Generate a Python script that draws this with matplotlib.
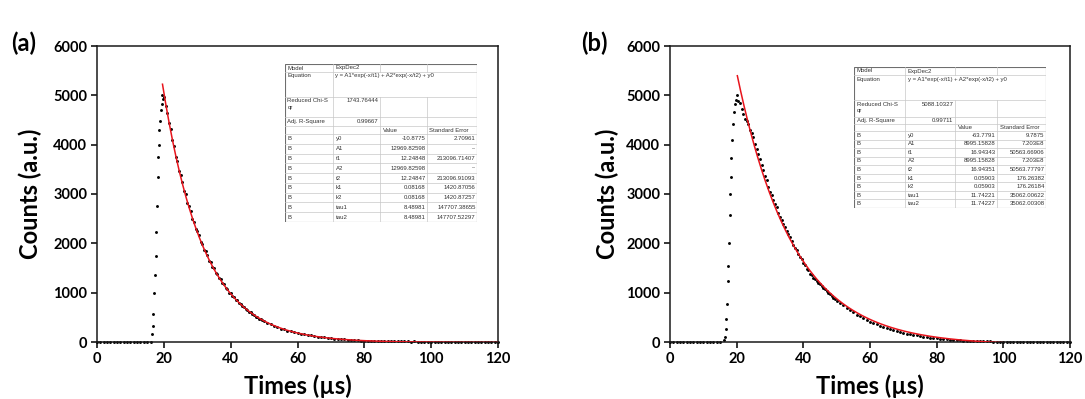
import numpy as np
import matplotlib
matplotlib.use('Agg')
import matplotlib.pyplot as plt

W, H = 1085, 399
FONT = ['Lato', 'DejaVu Sans']
TFONT = ['Liberation Sans', 'DejaVu Sans']

# shared time grid of the decay part (us)
decay_t = np.concatenate([np.arange(20.0, 50.01, 0.5), np.arange(51, 121)])
baseline_t = [0, 1, 2, 3, 4, 5, 6, 7, 8, 9, 10, 11, 12, 13, 14, 15]
baseline_counts = [0, 0, 0, 0, 0, 0, 0, 0, 0, 0, 0, 0, 0, 0, 0, 0]

# ---- panel (a) measured points
rise_t_a = [16.2, 16.5, 16.7, 16.9, 17.1, 17.3, 17.6, 17.8, 18.0, 18.2, 18.4, 18.6, 18.7, 18.9, 19.1, 19.4, 19.5, 19.9]
rise_counts_a = [5, 156, 325, 574, 988, 1365, 1744, 2237, 2765, 3341, 3753, 3990, 4294, 4477, 4706, 4821, 5004, 4935]
decay_counts_a = [
    4960, 4780, 4640, 4430, 4310, 4090, 3980, 3760, 3670, 3470,
    3390, 3250, 3060, 3000, 2820, 2760, 2650, 2490, 2440, 2300,
    2250, 2160, 2030, 1990, 1870, 1840, 1760, 1650, 1620, 1520,
    1500, 1390, 1380, 1290, 1270, 1190, 1170, 1090, 1080, 1000,
    990, 925, 915, 850, 845, 790, 775, 720, 715, 660,
    655, 610, 605, 560, 555, 515, 512, 475, 470, 438, 432,
    385, 368, 325, 310, 272, 262, 230, 222, 193, 188,
    162, 158, 136, 133, 114, 111, 95, 93, 79, 77,
    65, 64, 53, 54, 43, 44, 35, 36, 28, 29,
    25, 22, 24, 19, 21, 17, 18, 15, 16, 13,
    14, 12, 13, 10, 11, 9, 10, 8, 9, 7,
    8, 6, 7, 6, 5, 6, 4, 5, 5, 4,
    3, 4, 3, 4, 2, 3, 3, 2, 3, 2]

# ---- panel (b) measured points
rise_t_b = [16.3, 16.5, 16.7, 16.9, 17.1, 17.3, 17.5, 17.7, 18.0, 18.1, 18.3, 18.4, 18.7, 19.0, 19.2, 19.5, 19.7]
rise_counts_b = [34, 108, 270, 473, 765, 1243, 1541, 2002, 2570, 2996, 3347, 3738, 4091, 4416, 4665, 4821, 4909]
decay_counts_b = [
    5000, 4880, 4850, 4720, 4620, 4520, 4470, 4420, 4300, 4230,
    4160, 4020, 3920, 3810, 3700, 3580, 3480, 3370, 3280, 3150,
    3050, 2980, 2880, 2800, 2740, 2620, 2540, 2480, 2400, 2330,
    2260, 2190, 2130, 2040, 1970, 1900, 1860, 1780, 1730, 1690,
    1600, 1570, 1480, 1450, 1380, 1360, 1300, 1270, 1230, 1200,
    1180, 1130, 1090, 1070, 1030, 990, 970, 930, 900, 880, 840,
    790, 740, 690, 640, 600, 555, 520, 480, 450, 410,
    385, 355, 330, 305, 282, 262, 240, 222, 205, 188,
    172, 158, 145, 132, 120, 108, 98, 88, 80, 72,
    65, 58, 52, 46, 41, 36, 32, 28, 25, 22,
    19, 17, 15, 13, 12, 11, 10, 9, 8, 7,
    7, 6, 6, 5, 5, 5, 4, 4, 4, 3,
    3, 3, 3, 2, 2, 2, 2, 2, 1, 1]

# ExpDec2 fit parameters as printed in the inset tables
fit_a = {'A1': 12969.82598, 't1': 12.24848, 'A2': 12969.82598, 't2': 12.24847, 'y0': -10.8775, 'start': 19.6}
fit_b = {'A1': 8995.15828, 't1': 16.94343, 'A2': 8995.15828, 't2': 16.94351, 'y0': -63.7791, 'start': 20.2}

eq = 'y = A1*exp(-x/t1) + A2*exp(-x/t2) + y0'
table_a = [
    ['Model', 'ExpDec2', '', ''],
    ['Equation', eq, '', ''],
    ['Reduced Chi-S\nqr', '1743.76444', '', ''],
    ['Adj. R-Square', '0.99667', '', ''],
    ['', '', 'Value', 'Standard Error'],
    ['B', 'y0', '-10.8775', '2.70961'],
    ['B', 'A1', '12969.82598', '--'],
    ['B', 't1', '12.24848', '213096.71407'],
    ['B', 'A2', '12969.82598', '--'],
    ['B', 't2', '12.24847', '213096.91093'],
    ['B', 'k1', '0.08168', '1420.87056'],
    ['B', 'k2', '0.08168', '1420.87257'],
    ['B', 'tau1', '8.48981', '147707.38655'],
    ['B', 'tau2', '8.48981', '147707.52297'],
]
table_b = [
    ['Model', 'ExpDec2', '', ''],
    ['Equation', eq, '', ''],
    ['Reduced Chi-S\nqr', '5088.10327', '', ''],
    ['Adj. R-Square', '0.99711', '', ''],
    ['', '', 'Value', 'Standard Error'],
    ['B', 'y0', '-63.7791', '9.7875'],
    ['B', 'A1', '8995.15828', '7.203E8'],
    ['B', 't1', '16.94343', '50563.66906'],
    ['B', 'A2', '8995.15828', '7.203E8'],
    ['B', 't2', '16.94351', '50563.77797'],
    ['B', 'k1', '0.05903', '176.26382'],
    ['B', 'k2', '0.05903', '176.26184'],
    ['B', 'tau1', '11.74221', '35062.00622'],
    ['B', 'tau2', '11.74227', '35062.00308'],
]


def draw_panel(rect, rise_t, rise_c, decay_c, fit, label_x):
    ax = fig.add_axes(rect)
    t = list(baseline_t) + list(rise_t) + list(decay_t)
    c = list(baseline_counts) + list(rise_c) + list(decay_c)
    ax.plot(t, c, 'o', ms=2.1, color='black', mec='none', clip_on=False, zorder=2)
    tt = np.linspace(fit['start'], 120, 500)
    yy = fit['A1'] * np.exp(-tt / fit['t1']) + fit['A2'] * np.exp(-tt / fit['t2']) + fit['y0']
    ax.plot(tt, yy, color='#e8141c', lw=1.1, zorder=3)
    ax.set_xlim(0, 120)
    ax.set_ylim(0, 6000)
    ax.set_xticks([0, 20, 40, 60, 80, 100, 120])
    ax.set_yticks([0, 1000, 2000, 3000, 4000, 5000, 6000])
    for s in ax.spines.values():
        s.set_linewidth(1.1)
        s.set_color('#1a1a1a')
    ax.tick_params(direction='out', length=4, width=1.1, pad=3, labelsize=10.5, top=False, right=False)
    for lab in ax.get_xticklabels() + ax.get_yticklabels():
        lab.set_fontweight('bold')
        lab.set_family(FONT)
    ax.set_xlabel('Times (µs)', fontsize=17, fontweight='bold', family=FONT)
    ax.set_ylabel('Counts (a.u.)', fontsize=17, fontweight='bold', family=FONT)
    ax.xaxis.set_label_coords(0.5, -0.148)
    ax.xaxis.label.set_va('center')
    ax.yaxis.set_label_coords(label_x, 0.5)
    ax.yaxis.label.set_va('center')
    return ax


def draw_table(xs, ys, rows):
    x0, x1, y0, y1 = xs[0], xs[-1], ys[0], ys[-1]
    tax = fig.add_axes([x0 / W, 1 - y1 / H, (x1 - x0) / W, (y1 - y0) / H], zorder=5)
    tax.set_xlim(x0, x1)
    tax.set_ylim(y1, y0)
    tax.axis('off')
    tax.add_patch(plt.Rectangle((x0, y0), x1 - x0, y1 - y0, facecolor='white', edgecolor='none'))
    grid = dict(color='#c8c8c8', lw=0.5)
    for y in ys[1:-1]:
        tax.plot([x0, x1], [y, y], **grid)
    tax.plot([xs[1], xs[1]], [y0, y1], **grid)
    for x in xs[2:4]:
        tax.plot([x, x], [y0, ys[1]], **grid)
        tax.plot([x, x], [ys[2], y1], **grid)
    tax.add_patch(plt.Rectangle((x0, y0), x1 - x0, y1 - y0, facecolor='none',
                                edgecolor='#6e6e6e', lw=0.8))
    kw = dict(fontsize=4.3, color='#333333', family=TFONT)
    for i, row in enumerate(rows):
        top, bot = ys[i], ys[i + 1]
        ymid = (top + bot) / 2
        for j, txt in enumerate(row):
            if not txt:
                continue
            if i in (1, 2):
                yy, va = top + 1.5, 'top'
            else:
                yy, va = ymid, 'center'
            right = (j == 1 and i in (2, 3)) or (j >= 2 and i != 4)
            if right:
                tax.text(xs[j + 1] - 1.5, yy, txt, ha='right', va=va, linespacing=1.3, **kw)
            else:
                tax.text(xs[j] + 2.5, yy, txt, ha='left', va=va, linespacing=1.3, **kw)


fig = plt.figure(figsize=(W / 100, H / 100), dpi=100)

draw_panel([97 / W, 1 - 342 / H, 401 / W, 296 / H], rise_t_a, rise_counts_a, decay_counts_a, fit_a, -0.167)
draw_panel([670 / W, 1 - 342 / H, 400 / W, 296 / H], rise_t_b, rise_counts_b, decay_counts_b, fit_b, -0.158)

fig.text(24 / W, 1 - 43 / H, '(a)', fontsize=17, fontweight='bold', family=FONT, ha='center', va='center')
fig.text(594 / W, 1 - 43 / H, '(b)', fontsize=17, fontweight='bold', family=FONT, ha='center', va='center')

ys_a = [64, 72, 97, 117, 126, 134] + [134 + 9.78 * k for k in range(1, 10)]
ys_b = [67, 75, 100, 117, 124, 131] + [131 + 8.56 * k for k in range(1, 10)]
draw_table([285, 333, 380, 427, 477], ys_a, table_a)
draw_table([854, 905, 955, 997, 1046], ys_b, table_b)

fig.savefig('out.png', dpi=100)
